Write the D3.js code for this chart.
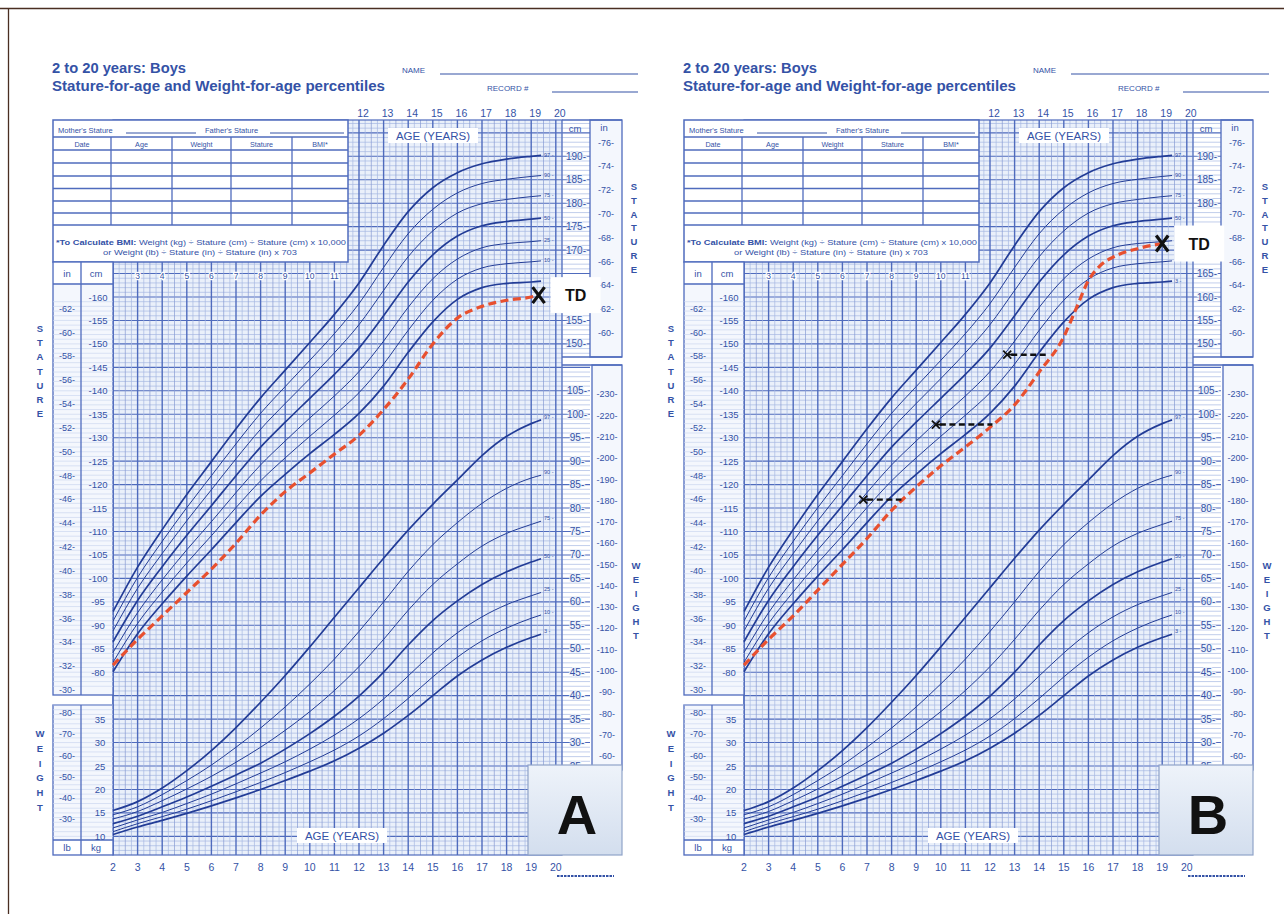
<!DOCTYPE html>
<html><head><meta charset="utf-8">
<script src="https://cdn.jsdelivr.net/npm/d3@7"></script>
<style>
body{margin:0;background:#fff;}
svg text{font-family:"Liberation Sans",Arial,sans-serif;}
</style></head><body>
<svg id="c" width="1284" height="914"></svg>
<script>
// Ages at which the percentile curves are tabulated (years)
const ages = [2,3,4,5,6,7,8,9,10,11,12,13,14,15,16,17,18,19,19.4];
const percentileNames = ["3","10","25","50","75","90","97"];

// Stature-for-age percentiles, boys (cm)
const stature3  = [80.1,88.2,94.6,100.5,106.1,111.9,117.5,122.2,126.6,130.7,135.2,141.0,148.2,154.7,159.5,162.0,162.9,163.2,163.4];
const stature10 = [82.1,90.4,97.1,103.3,109.1,115.1,120.8,125.7,130.3,134.8,139.6,145.7,152.9,159.3,163.8,166.2,167.1,167.5,167.7];
const stature25 = [84.2,92.7,99.7,106.1,112.1,118.3,124.2,129.3,134.2,138.9,144.1,150.6,157.8,163.9,168.1,170.5,171.4,171.8,172.0];
const stature50 = [86.5,95.3,102.5,109.2,115.5,121.9,128.0,133.3,138.4,143.5,149.1,156.0,163.2,169.0,173.0,175.2,176.1,176.6,176.8];
const stature75 = [88.8,97.9,105.3,112.3,118.9,125.5,131.8,137.3,142.6,148.1,154.1,161.4,168.6,174.1,177.9,179.9,180.8,181.4,181.6];
const stature90 = [90.9,100.2,107.9,115.1,121.9,128.7,135.2,140.9,146.5,152.2,158.6,166.3,173.5,178.7,182.2,184.2,185.1,185.7,185.9];
const stature97 = [92.9,102.4,110.4,117.9,124.9,131.9,138.5,144.4,150.3,156.3,163.0,171.0,178.2,183.3,186.5,188.4,189.4,190.0,190.2];

// Weight-for-age percentiles, boys (kg)
const weight3  = [10.4,12.0,13.4,14.9,16.5,18.2,20.0,21.9,23.9,26.1,28.8,32.0,35.8,40.0,44.2,47.6,50.3,52.4,53.1];
const weight10 = [11.0,12.7,14.2,15.8,17.6,19.5,21.5,23.6,25.9,28.4,31.4,35.1,39.4,44.0,48.2,51.7,54.4,56.5,57.2];
const weight25 = [11.8,13.5,15.1,17.0,19.0,21.2,23.5,25.9,28.6,31.6,35.1,39.3,44.2,49.1,53.4,56.8,59.4,61.3,62.0];
const weight50 = [12.7,14.3,16.3,18.4,20.7,23.1,25.6,28.6,31.9,35.6,39.9,45.0,50.8,56.0,60.2,63.7,66.4,68.5,69.2];
const weight75 = [13.7,15.3,17.6,20.1,22.8,25.8,29.0,32.6,36.6,41.1,46.2,52.0,58.2,63.7,68.1,71.9,74.6,76.5,77.2];
const weight90 = [14.6,16.3,18.9,21.9,25.2,29.0,33.1,37.6,42.5,47.8,53.7,60.0,66.5,72.2,76.9,81.0,84.2,86.4,87.0];
const weight97 = [15.5,17.4,20.3,24.0,28.3,33.2,38.6,44.3,50.4,56.7,63.0,69.3,75.3,80.8,86.0,91.2,95.3,98.0,98.8];

// Patient TD, growth record A (age in years, stature in cm)
const tdAgesA = [2,3,4,5,6,7,8,9,10,11,12,13,14,15,16,17,18,19,19.3];
const tdStatA = [81.5,87,92,97,102,107.5,113.5,118.5,122.5,126.5,130.5,136,142.5,150,155.5,158,159.3,160,160.4];
// Patient TD, growth record B
const tdAgesB = [2,3,4,5,6,7,8,9,10,11,12,13,14,15,15.5,16,16.5,17,18,19];
const tdStatB = [81.5,87,92,97.5,103,108.5,114.5,119.5,124,128,132.2,137,144,151.5,157.5,163.5,166.8,168.5,170.3,171.4];
// Height-age shifts plotted on record B: chronological age -> height age
const shiftFrom = [8.4, 12.1, 14.3];
const shiftTo   = [6.85, 9.8, 12.7];
const shiftCm   = [116.8, 132.8, 147.7];

// Axis label values
const bottomAges = d3.range(2, 21);
const topAges = d3.range(12, 21);
const innerAges = d3.range(3, 12);
const leftInches = d3.range(30, 63, 2);
const leftCm = d3.range(80, 161, 5);
const leftLb = d3.range(30, 81, 10);
const leftKg = d3.range(10, 36, 5);
const rightCm = d3.range(150, 191, 5);
const rightInches = d3.range(60, 77, 2);
const rightKg = d3.range(25, 106, 5);
const rightLb = d3.range(60, 231, 10);

const BLUE = "#3452a6", CURVE = "#223c96", MINOR = "#a6b8e2", MID = "#869bd3", MAJOR = "#4f6bbd", PAPER = "#eaf0fa";
const svg = d3.select("#c");
const defs = svg.append("defs");
const lg = defs.append("linearGradient").attr("id","pg").attr("x1",0).attr("x2",0).attr("y1",0).attr("y2",1);
lg.append("stop").attr("offset","0%").attr("stop-color","#eef3fa");
lg.append("stop").attr("offset","100%").attr("stop-color","#d3deee");

// outer frame lines
svg.append("line").attr("x1",0).attr("x2",1284).attr("y1",8.5).attr("y2",8.5).attr("stroke","#4a2e22").attr("stroke-width",1.3);
svg.append("line").attr("x1",8.5).attr("x2",8.5).attr("y1",8).attr("y2",914).attr("stroke","#4a2e22").attr("stroke-width",1.3);

const statSeries = [stature3,stature10,stature25,stature50,stature75,stature90,stature97];
const wtSeries = [weight3,weight10,weight25,weight50,weight75,weight90,weight97];

function vletters(g, word, x, y0, step) {
  word.split("").forEach((c, i) => g.append("text").attr("x", x).attr("y", y0 + i*step)
    .attr("text-anchor","middle").attr("font-size",9.5).attr("font-weight","bold").attr("fill",BLUE).text(c));
}

function panel(ox, cfg) {
  const g = svg.append("g").attr("transform", `translate(${ox},0)`);
  const x = d3.scaleLinear().domain([2, 20]).range([113, 555.8]);
  const yS = d3.scaleLinear().domain([80, 160]).range([672.2, 297]);
  const yW = d3.scaleLinear().domain([10, 100]).range([yS(45), yS(135)]);
  const gx0 = 113, gx1 = 562, gy0 = 120, gy1 = 855;

  // final measurement and its tag area
  const pts = cfg.ages.map((a,i) => [a, cfg.stat[i]]);
  const last = pts[pts.length-1];
  const mx = x(last[0]), my = yS(last[1]);
  const tag = {x0: mx+12, x1: mx+62, y0: my-18, y1: my+18};
  const hidden = yy => yy > tag.y0 - 4 && yy < tag.y1 + 4;

  // titles
  g.append("text").attr("x",52).attr("y",73).attr("font-size",14).attr("font-weight","bold").attr("fill",BLUE)
    .attr("textLength",134).attr("lengthAdjust","spacingAndGlyphs").text("2 to 20 years: Boys");
  g.append("text").attr("x",52).attr("y",91).attr("font-size",14).attr("font-weight","bold").attr("fill",BLUE)
    .attr("textLength",333).attr("lengthAdjust","spacingAndGlyphs").text("Stature-for-age and Weight-for-age percentiles");
  g.append("text").attr("x",402).attr("y",73).attr("font-size",8).attr("fill",BLUE).text("NAME");
  g.append("line").attr("x1",440).attr("x2",638).attr("y1",74).attr("y2",74).attr("stroke",BLUE).attr("stroke-width",1.2);
  g.append("text").attr("x",487).attr("y",91).attr("font-size",8).attr("fill",BLUE).text("RECORD #");
  g.append("line").attr("x1",552).attr("x2",638).attr("y1",92).attr("y2",92).attr("stroke",BLUE).attr("stroke-width",1.2);

  // grid paper
  g.append("rect").attr("x",gx0).attr("y",gy0).attr("width",gx1-gx0).attr("height",gy1-gy0).attr("fill",PAPER);
  const hcm = d3.range(42, 198);
  g.append("g").selectAll("line").data(hcm).join("line")
    .attr("x1",gx0).attr("x2",d => (yS(d) > 120 && yS(d) < 357) || (yS(d) > 365 && yS(d) < 770) ? 590 : gx1)
    .attr("y1",d => yS(d)).attr("y2",d => yS(d))
    .attr("stroke",d => d % 5 === 0 ? MAJOR : MINOR).attr("stroke-width",d => d % 5 === 0 ? 1.1 : 0.7);
  const vq = d3.range(2, 20.3, 0.25);
  g.append("g").selectAll("line").data(vq).join("line")
    .attr("x1",d => x(d)).attr("x2",d => x(d)).attr("y1",gy0).attr("y2",gy1)
    .attr("stroke",d => Number.isInteger(d) ? MAJOR : (d % 1 === 0.5 ? MID : MINOR))
    .attr("stroke-width",d => Number.isInteger(d) ? 1.4 : 0.7);
  g.append("rect").attr("x",gx0).attr("y",gy0).attr("width",gx1-gx0).attr("height",gy1-gy0).attr("fill","none").attr("stroke",MAJOR).attr("stroke-width",1.2);

  // data table
  g.append("rect").attr("x",53).attr("y",120).attr("width",295).attr("height",142).attr("fill","#fff").attr("stroke",MAJOR).attr("stroke-width",1.5);
  g.append("text").attr("x",58).attr("y",133).attr("font-size",7.5).attr("fill",BLUE).text("Mother's Stature");
  g.append("line").attr("x1",126).attr("x2",196).attr("y1",133).attr("y2",133).attr("stroke",BLUE);
  g.append("text").attr("x",205).attr("y",133).attr("font-size",7.5).attr("fill",BLUE).text("Father's Stature");
  g.append("line").attr("x1",270).attr("x2",344).attr("y1",133).attr("y2",133).attr("stroke",BLUE);
  const rowY = [137,150,163,176,188.5,201,213,225];
  g.append("g").selectAll("line").data(rowY).join("line").attr("x1",53).attr("x2",348)
    .attr("y1",d => d).attr("y2",d => d).attr("stroke",MAJOR).attr("stroke-width",1.6);
  const colX = [111,172,231,292];
  g.append("g").selectAll("line").data(colX).join("line").attr("x1",d => d).attr("x2",d => d)
    .attr("y1",137).attr("y2",225).attr("stroke",MAJOR).attr("stroke-width",1.3);
  const heads = ["Date","Age","Weight","Stature","BMI*"];
  const headX = [82,141.5,201.5,261.5,320];
  heads.forEach((h,i) => g.append("text").attr("x",headX[i]).attr("y",146.5).attr("text-anchor","middle").attr("font-size",7.2).attr("fill",BLUE).text(h));
  g.append("text").attr("x",56).attr("y",245).attr("font-size",7).attr("fill",BLUE)
    .attr("textLength",290).attr("lengthAdjust","spacingAndGlyphs")
    .html('<tspan font-weight="bold">*To Calculate BMI:</tspan> Weight (kg) ÷ Stature (cm) ÷ Stature (cm) x 10,000');
  g.append("text").attr("x",103).attr("y",255).attr("font-size",7).attr("fill",BLUE)
    .attr("textLength",194).attr("lengthAdjust","spacingAndGlyphs")
    .text("or Weight (lb) ÷ Stature (in) ÷ Stature (in) x 703");

  // age labels inside the grid
  g.append("rect").attr("x",388).attr("y",128).attr("width",90).attr("height",15).attr("fill","#fff");
  g.append("text").attr("x",433).attr("y",140).attr("text-anchor","middle").attr("font-size",11.5).attr("fill",BLUE).text("AGE (YEARS)");
  g.append("rect").attr("x",297).attr("y",828).attr("width",90).attr("height",15).attr("fill","#fff");
  g.append("text").attr("x",342).attr("y",840).attr("text-anchor","middle").attr("font-size",11.5).attr("fill",BLUE).text("AGE (YEARS)");
  g.append("g").selectAll("text").data(innerAges).join("text").attr("x",d => x(d)).attr("y",279)
    .attr("text-anchor","middle").attr("font-size",8.5).attr("fill",BLUE)
    .attr("stroke","#fff").attr("stroke-width",2.5).attr("paint-order","stroke").text(d => d);
  g.append("g").selectAll("text").data(topAges).join("text").attr("x",d => x(d)+4).attr("y",117)
    .attr("text-anchor","middle").attr("font-size",10.5).attr("fill",BLUE).text(d => d);
  g.append("g").selectAll("text").data(bottomAges).join("text").attr("x",d => x(d)).attr("y",871)
    .attr("text-anchor","middle").attr("font-size",10.5).attr("fill",BLUE).text(d => d);
  g.append("line").attr("x1",557).attr("x2",614).attr("y1",876).attr("y2",876).attr("stroke",BLUE).attr("stroke-width",2).attr("stroke-dasharray","2.5,1");

  // left stature columns
  const lc = g.append("g");
  lc.append("rect").attr("x",53).attr("y",262).attr("width",60).attr("height",433).attr("fill","#f4f7fd").attr("stroke",MAJOR).attr("stroke-width",1.3);
  lc.selectAll("line.m").data(d3.range(77, 160)).join("line").attr("x1",53).attr("x2",113)
    .attr("y1",d => yS(d)).attr("y2",d => yS(d)).attr("stroke","#ccd7ef").attr("stroke-width",0.7);
  lc.append("line").attr("x1",81).attr("x2",81).attr("y1",262).attr("y2",695).attr("stroke",MAJOR).attr("stroke-width",1.3);
  lc.append("line").attr("x1",53).attr("x2",113).attr("y1",284).attr("y2",284).attr("stroke",MAJOR).attr("stroke-width",1.3);
  lc.append("rect").attr("x",54).attr("y",263).attr("width",26).attr("height",20).attr("fill","#fff");
  lc.append("rect").attr("x",82).attr("y",263).attr("width",30).attr("height",20).attr("fill","#fff");
  lc.append("text").attr("x",67).attr("y",277).attr("text-anchor","middle").attr("font-size",9.5).attr("fill",BLUE).text("in");
  lc.append("text").attr("x",96).attr("y",277).attr("text-anchor","middle").attr("font-size",9.5).attr("fill",BLUE).text("cm");
  lc.selectAll("text.i").data(leftInches).join("text").attr("x",67).attr("y",d => yS(d*2.54)+3)
    .attr("text-anchor","middle").attr("font-size",9).attr("fill",BLUE).text(d => "-" + d + "-");
  lc.selectAll("text.c").data(leftCm).join("text").attr("x",98).attr("y",d => yS(d)+3.5)
    .attr("text-anchor","middle").attr("font-size",9.5).attr("fill",BLUE).text(d => "-" + d);

  // left weight columns
  const lw = g.append("g");
  lw.append("rect").attr("x",53).attr("y",705).attr("width",60).attr("height",150).attr("fill","#f4f7fd").attr("stroke",MAJOR).attr("stroke-width",1.3);
  lw.selectAll("line.m").data(d3.range(10, 39)).join("line").attr("x1",53).attr("x2",113)
    .attr("y1",d => yW(d)).attr("y2",d => yW(d)).attr("stroke","#ccd7ef").attr("stroke-width",0.7);
  lw.append("line").attr("x1",81).attr("x2",81).attr("y1",705).attr("y2",855).attr("stroke",MAJOR).attr("stroke-width",1.3);
  lw.append("line").attr("x1",53).attr("x2",113).attr("y1",840).attr("y2",840).attr("stroke",MAJOR).attr("stroke-width",1.3);
  lw.append("rect").attr("x",54).attr("y",841).attr("width",26).attr("height",13).attr("fill","#fff");
  lw.append("rect").attr("x",82).attr("y",841).attr("width",30).attr("height",13).attr("fill","#fff");
  lw.append("text").attr("x",67).attr("y",851).attr("text-anchor","middle").attr("font-size",9.5).attr("fill",BLUE).text("lb");
  lw.append("text").attr("x",96).attr("y",851).attr("text-anchor","middle").attr("font-size",9.5).attr("fill",BLUE).text("kg");
  lw.selectAll("text.l").data(leftLb).join("text").attr("x",67).attr("y",d => yW(d/2.2046)+3)
    .attr("text-anchor","middle").attr("font-size",9).attr("fill",BLUE).text(d => "-" + d + "-");
  lw.selectAll("text.k").data(leftKg).join("text").attr("x",100).attr("y",d => yW(d)+3.5)
    .attr("text-anchor","middle").attr("font-size",9.5).attr("fill",BLUE).text(d => d);

  // right stature columns
  const rs = g.append("g");
  rs.append("rect").attr("x",590).attr("y",120).attr("width",32).attr("height",237).attr("fill","#f4f7fd").attr("stroke",MAJOR).attr("stroke-width",1.3);
  rs.append("line").attr("x1",562).attr("x2",622).attr("y1",120).attr("y2",120).attr("stroke",MAJOR).attr("stroke-width",1.3);
  rs.append("line").attr("x1",562).attr("x2",622).attr("y1",357).attr("y2",357).attr("stroke",MAJOR).attr("stroke-width",1.3);
  rs.append("text").attr("x",575).attr("y",132).attr("text-anchor","middle").attr("font-size",9.5).attr("fill",BLUE).text("cm");
  rs.append("text").attr("x",604).attr("y",131).attr("text-anchor","middle").attr("font-size",9.5).attr("fill",BLUE).text("in");
  rs.selectAll("text.c").data(rightCm.filter(v => !hidden(yS(v)))).join("text").attr("x",576).attr("y",d => yS(d)+3.5)
    .attr("text-anchor","middle").attr("font-size",10).attr("fill",BLUE)
    .attr("stroke",PAPER).attr("stroke-width",2).attr("paint-order","stroke").text(d => d + "-");
  rs.selectAll("text.i").data(rightInches).join("text").attr("x",606).attr("y",d => yS(d*2.54)+3.5)
    .attr("text-anchor","middle").attr("font-size",9).attr("fill",BLUE).text(d => "-" + d + "-");
  vletters(rs, "STATURE", 634, 190, 13.8);

  // right weight columns
  const rw = g.append("g");
  rw.append("rect").attr("x",592).attr("y",365).attr("width",30).attr("height",405).attr("fill","#f4f7fd").attr("stroke",MAJOR).attr("stroke-width",1.3);
  rw.append("line").attr("x1",562).attr("x2",622).attr("y1",365).attr("y2",365).attr("stroke",MAJOR).attr("stroke-width",1.3);
  rw.selectAll("text.k").data(rightKg).join("text").attr("x",577).attr("y",d => yW(d)+3.5)
    .attr("text-anchor","middle").attr("font-size",10).attr("fill",BLUE)
    .attr("stroke",PAPER).attr("stroke-width",2).attr("paint-order","stroke").text(d => d + "-");
  rw.selectAll("text.l").data(rightLb.filter(v => yW(v/2.2046) < 765)).join("text").attr("x",607).attr("y",d => yW(d/2.2046)+3.5)
    .attr("text-anchor","middle").attr("font-size",9).attr("fill",BLUE).text(d => "-" + d + "-");
  vletters(rw, "WEIGHT", 636, 569, 14);

  vletters(g, "STATURE", 40, 332, 14.2);
  vletters(g, "WEIGHT", 40, 737, 14.8);

  // percentile curves
  const lineS = d3.line().x((d,i) => x(ages[i])).y(d => yS(d)).curve(d3.curveMonotoneX);
  const lineW = d3.line().x((d,i) => x(ages[i])).y(d => yW(d)).curve(d3.curveMonotoneX);
  const heavy = n => n === "3" || n === "50" || n === "97";
  statSeries.forEach((s, k) => {
    g.append("path").attr("d", lineS(s)).attr("fill","none").attr("stroke",CURVE)
      .attr("stroke-width", heavy(percentileNames[k]) ? 1.7 : 1.0);
    if (!hidden(yS(s[s.length-1])))
      g.append("text").attr("x", x(ages[ages.length-1]) + 3).attr("y", yS(s[s.length-1]) + 1.5)
        .attr("font-size",5.5).attr("fill",BLUE).text(percentileNames[k] + " -");
  });
  wtSeries.forEach((s, k) => {
    g.append("path").attr("d", lineW(s)).attr("fill","none").attr("stroke",CURVE)
      .attr("stroke-width", heavy(percentileNames[k]) ? 1.7 : 1.0);
    g.append("text").attr("x", x(ages[ages.length-1]) + 3).attr("y", yW(s[s.length-1]) - 1)
      .attr("font-size",5.5).attr("fill",BLUE).text(percentileNames[k] + " -");
  });

  // patient record
  const tdLine = d3.line().x(d => x(d[0])).y(d => yS(d[1])).curve(d3.curveMonotoneX);
  g.append("path").attr("d", tdLine(pts)).attr("fill","none").attr("stroke","#e8502f")
    .attr("stroke-width",3.2).attr("stroke-dasharray","8,4.5");

  if (cfg.shifts) {
    cfg.shifts.from.forEach((f, i) => {
      const yy = yS(cfg.shifts.cm[i]), xa = x(cfg.shifts.to[i]), xb = x(f);
      g.append("line").attr("x1",xa+4).attr("x2",xb).attr("y1",yy).attr("y2",yy)
        .attr("stroke","#111").attr("stroke-width",2.4).attr("stroke-dasharray","6,3.5");
      g.append("path").attr("d",`M${xa-4},${yy-4}L${xa+4},${yy+4}M${xa-4},${yy+4}L${xa+4},${yy-4}M${xa},${yy}L${xa+6},${yy}`)
        .attr("stroke","#111").attr("stroke-width",1.8).attr("fill","none");
    });
  }

  // final measurement mark and TD tag
  g.append("rect").attr("x",tag.x0).attr("y",tag.y0).attr("width",tag.x1-tag.x0).attr("height",tag.y1-tag.y0).attr("fill","#fff");
  g.append("text").attr("x",mx+37).attr("y",my+6).attr("text-anchor","middle").attr("font-size",16)
    .attr("font-weight","bold").attr("fill","#111").text("TD");
  g.append("path").attr("d",`M${mx-6},${my-8}L${mx+6},${my+8}M${mx-6},${my+8}L${mx+6},${my-8}`)
    .attr("stroke","#111").attr("stroke-width",3.2).attr("fill","none");

  // panel letter
  g.append("rect").attr("x",528).attr("y",765).attr("width",94).attr("height",90).attr("fill","url(#pg)")
    .attr("stroke","#8fa3c9").attr("stroke-width",1.2);
  g.append("text").attr("x",577).attr("y",834).attr("text-anchor","middle").attr("font-size",56)
    .attr("font-weight","bold").attr("fill","#111").text(cfg.letter);
}

panel(0, {letter: "A", ages: tdAgesA, stat: tdStatA});
panel(631, {letter: "B", ages: tdAgesB, stat: tdStatB,
  shifts: {from: shiftFrom, to: shiftTo, cm: shiftCm}});
</script>
</body></html>
